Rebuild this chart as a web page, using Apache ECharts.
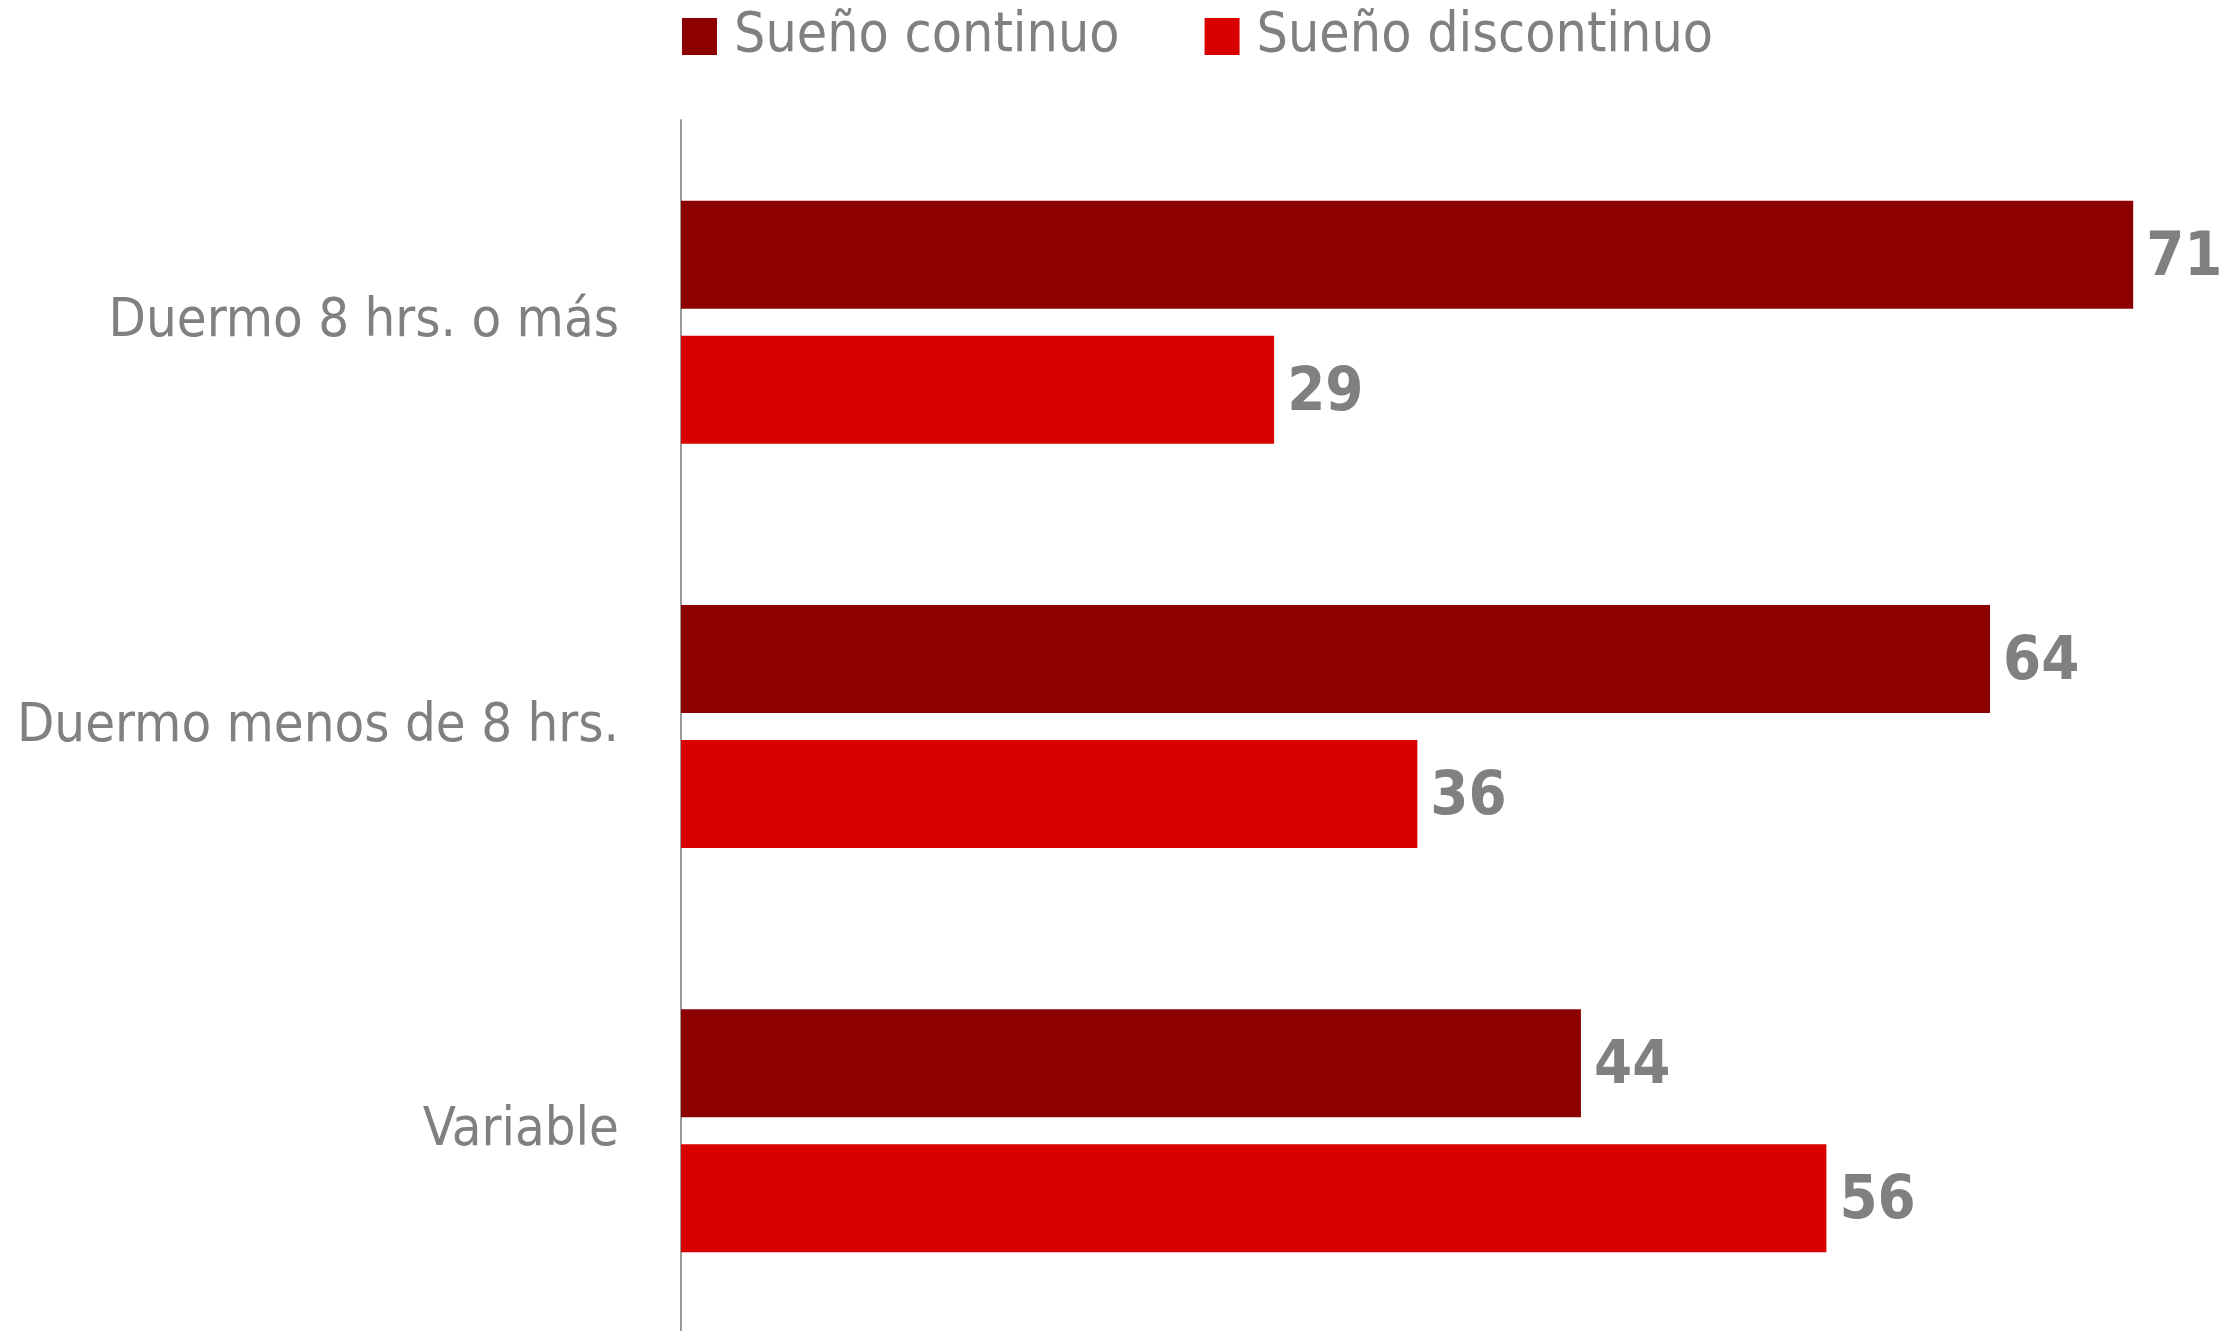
<!DOCTYPE html>
<html>
<head>
<meta charset="utf-8">
<script src="https://cdn.jsdelivr.net/npm/echarts@6/dist/echarts.min.js"></script>
<style>
  html, body { margin: 0; padding: 0; background: #ffffff; }
  #chart { width: 2222px; height: 1331px; }
</style>
</head>
<body>
<div id="chart"></div>
<script>
// Horas de sueño frente al tipo de sueño (%)
const categories = ['Duermo 8 hrs. o más', 'Duermo menos de 8 hrs.', 'Variable'];
const seriesNames = ['Sueño continuo', 'Sueño discontinuo'];
const continuo = [71, 64, 44];
const discontinuo = [29, 36, 56];

// condensed face of the sans family
const FONT = '"DejaVu Sans", sans-serif';
const STRETCH = 'condensed';
const GREY = '#808080';

const chart = echarts.init(document.getElementById('chart'));

const valueLabel = {
  show: true,
  position: 'right',
  distance: 13,
  fontFamily: FONT,
  fontStyle: STRETCH,
  fontWeight: 'bold',
  fontSize: 61,
  color: GREY,
  offset: [0, 4]
};

chart.setOption({
  animation: false,
  backgroundColor: '#ffffff',
  legend: {
    data: seriesNames,
    left: 677,
    top: 4,
    itemWidth: 35,
    itemHeight: 37,
    itemGap: 85,
    icon: 'rect',
    textStyle: {
      fontFamily: FONT,
      fontStyle: STRETCH,
      fontSize: 55,
      color: GREY,
      padding: [6, 0, 0, 12]
    }
  },
  grid: {
    left: 681,
    right: 7,
    top: 120,
    height: 1213,
    containLabel: false,
    outerBoundsMode: 'none'
  },
  xAxis: {
    type: 'value',
    min: 0,
    max: 75,
    show: false
  },
  yAxis: {
    type: 'category',
    data: categories,
    inverse: true,
    axisLine: { show: true, lineStyle: { color: '#9a9a9a', width: 2 } },
    axisTick: { show: false },
    axisLabel: {
      fontFamily: FONT,
      fontStyle: STRETCH,
      fontSize: 54,
      color: GREY,
      margin: 62,
      padding: [12, 0, 0, 0]
    },
    splitLine: { show: false }
  },
  series: [
    {
      name: seriesNames[0],
      type: 'bar',
      data: continuo,
      barWidth: 108,
      barGap: '25%',
      itemStyle: { color: '#8C0002' },
      label: valueLabel
    },
    {
      name: seriesNames[1],
      type: 'bar',
      data: discontinuo,
      barWidth: 108,
      barGap: '25%',
      itemStyle: { color: '#D90000' },
      label: valueLabel
    }
  ]
});
</script>
</body>
</html>
